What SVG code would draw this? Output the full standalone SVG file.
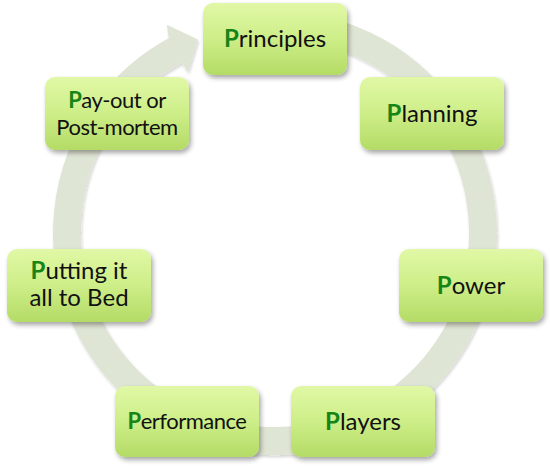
<svg xmlns="http://www.w3.org/2000/svg" width="550" height="468" viewBox="0 0 550 468">
  <defs>
    <linearGradient id="boxGrad" x1="0" y1="0" x2="0" y2="1">
      <stop offset="0" stop-color="#e1f8a6"/>
      <stop offset="0.5" stop-color="#cdee88"/>
      <stop offset="1" stop-color="#b4db66"/>
    </linearGradient>
    <filter id="shadow" x="-20%" y="-20%" width="140%" height="150%">
      <feGaussianBlur in="SourceAlpha" stdDeviation="2.5"/>
      <feOffset dx="1.5" dy="3" result="b"/>
      <feComponentTransfer><feFuncA type="linear" slope="0.35"/></feComponentTransfer>
      <feMerge><feMergeNode/><feMergeNode in="SourceGraphic"/></feMerge>
    </filter>
    <filter id="ringShadow" x="-10%" y="-10%" width="120%" height="120%">
      <feGaussianBlur in="SourceAlpha" stdDeviation="1.5"/>
      <feOffset dx="1" dy="2" result="b"/>
      <feComponentTransfer><feFuncA type="linear" slope="0.18"/></feComponentTransfer>
      <feMerge><feMergeNode/><feMergeNode in="SourceGraphic"/></feMerge>
    </filter>
  </defs>
  <style>
    .box { fill: url(#boxGrad); filter: url(#shadow); }
    .lbl { font-family: Lato, "Open Sans", "Liberation Sans", sans-serif; font-size: 24px; fill: #111; text-anchor: middle; }
    .tight { font-size: 22px; letter-spacing: -0.5px; }
    .p { fill: #168416; font-weight: bold; }
    .ring { fill: none; stroke: #dfe5d4; stroke-width: 28; }
    .head { fill: #dfe5d4; }
  </style>

  <g id="connectors" filter="url(#ringShadow)">
    <path class="ring" d="M 256.87 25.79 A 208 208 0 1 1 177.35 49.35"/>
    <polygon class="head" points="167,25 197.75,39.87 188,72 181,61.5"/>
    <polygon class="head" points="167,25 197.75,39.87 188,72 168.5,37"/>
  </g>

  <g id="principles">
    <rect class="box" x="203" y="3" width="144" height="72" rx="10"/>
    <text class="lbl" x="275" y="47"><tspan class="p">P</tspan>rinciples</text>
  </g>
  <g id="planning">
    <rect class="box" x="360" y="77" width="144" height="73" rx="10"/>
    <text class="lbl" x="432" y="122"><tspan class="p">P</tspan>lanning</text>
  </g>
  <g id="power">
    <rect class="box" x="399" y="249" width="144" height="73" rx="10"/>
    <text class="lbl" x="471" y="294"><tspan class="p">P</tspan>ower</text>
  </g>
  <g id="players">
    <rect class="box" x="291" y="386" width="144" height="71" rx="10"/>
    <text class="lbl" x="363" y="430"><tspan class="p">P</tspan>layers</text>
  </g>
  <g id="performance">
    <rect class="box" x="115" y="386" width="144" height="71" rx="10"/>
    <text class="lbl tight" x="187" y="429"><tspan class="p">P</tspan>erformance</text>
  </g>
  <g id="putting">
    <rect class="box" x="7" y="249" width="144" height="73" rx="10"/>
    <text class="lbl" x="79" y="279"><tspan class="p">P</tspan>utting it</text>
    <text class="lbl" x="79" y="306">all to Bed</text>
  </g>
  <g id="payout">
    <rect class="box" x="45" y="77" width="144" height="73" rx="10"/>
    <text class="lbl tight" x="117" y="108"><tspan class="p">P</tspan>ay-out or</text>
    <text class="lbl tight" x="117" y="135">Post-mortem</text>
  </g>
</svg>
